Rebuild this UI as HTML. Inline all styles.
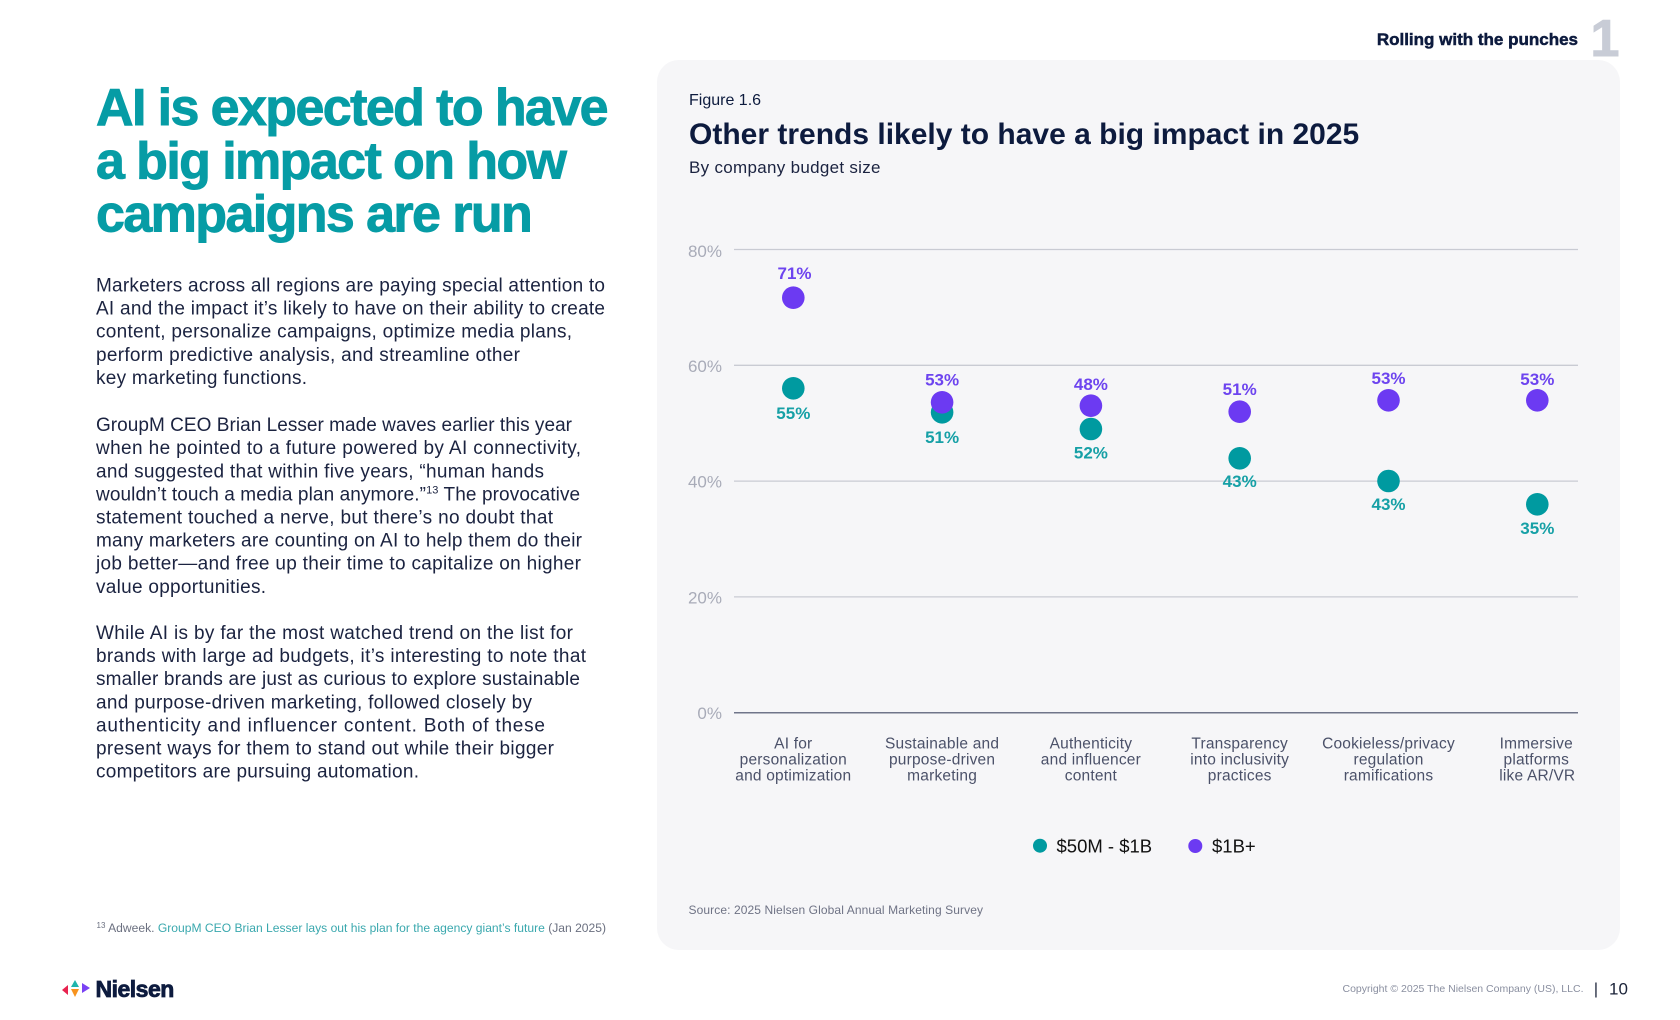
<!DOCTYPE html>
<html>
<head>
<meta charset="utf-8">
<style>
  html, body { margin: 0; padding: 0; background: #ffffff; }
  body { width: 1680px; height: 1020px; overflow: hidden; }
  svg { display: block; }
  text { font-family: "Liberation Sans", Arial, sans-serif; }
</style>
</head>
<body>
<svg width="1680" height="1020" viewBox="0 0 1680 1020" xmlns="http://www.w3.org/2000/svg">
  <!-- page background -->
  <rect x="0" y="0" width="1680" height="1020" fill="#ffffff"/>

  <!-- header -->
  <text x="1578" y="45" text-anchor="end" font-size="17" font-weight="bold" fill="#0d1b3e" stroke="#0d1b3e" stroke-width="0.5">Rolling with the punches</text>
  <text x="1605" y="56" text-anchor="middle" font-size="52" font-weight="bold" fill="#c8ccd6" stroke="#c8ccd6" stroke-width="1">1</text>

  <!-- headline -->
  <g font-size="52" font-weight="bold" fill="#069ca5" stroke="#069ca5" stroke-width="0.9" letter-spacing="-1.6">
    <text x="96" y="125">AI is expected to have</text>
    <text x="96" y="178.5">a big impact on how</text>
    <text x="96" y="231.5">campaigns are run</text>
  </g>

  <!-- body text -->
  <g font-size="19" fill="#1b2340">
    <text x="96" y="291.5" textLength="509" lengthAdjust="spacing">Marketers across all regions are paying special attention to</text>
    <text x="96" y="314.6" textLength="509" lengthAdjust="spacing">AI and the impact it’s likely to have on their ability to create</text>
    <text x="96" y="337.7" textLength="476" lengthAdjust="spacing">content, personalize campaigns, optimize media plans,</text>
    <text x="96" y="360.8" textLength="424" lengthAdjust="spacing">perform predictive analysis, and streamline other</text>
    <text x="96" y="383.9" textLength="211" lengthAdjust="spacing">key marketing functions.</text>

    <text x="96" y="431.1" textLength="476" lengthAdjust="spacing">GroupM CEO Brian Lesser made waves earlier this year</text>
    <text x="96" y="454.2" textLength="485" lengthAdjust="spacing">when he pointed to a future powered by AI connectivity,</text>
    <text x="96" y="477.3" textLength="448" lengthAdjust="spacing">and suggested that within five years, “human hands</text>
    <text x="96" y="500.4" letter-spacing="0.1">wouldn’t touch a media plan anymore.”<tspan font-size="11" dy="-7">13</tspan><tspan dy="7"> The provocative</tspan></text>
    <text x="96" y="523.5" textLength="457" lengthAdjust="spacing">statement touched a nerve, but there’s no doubt that</text>
    <text x="96" y="546.6" textLength="486" lengthAdjust="spacing">many marketers are counting on AI to help them do their</text>
    <text x="96" y="569.7" textLength="485" lengthAdjust="spacing">job better—and free up their time to capitalize on higher</text>
    <text x="96" y="592.8" textLength="170" lengthAdjust="spacing">value opportunities.</text>

    <text x="96" y="639.0" textLength="477" lengthAdjust="spacing">While AI is by far the most watched trend on the list for</text>
    <text x="96" y="662.1" textLength="490" lengthAdjust="spacing">brands with large ad budgets, it’s interesting to note that</text>
    <text x="96" y="685.2" textLength="484" lengthAdjust="spacing">smaller brands are just as curious to explore sustainable</text>
    <text x="96" y="708.3" textLength="436" lengthAdjust="spacing">and purpose-driven marketing, followed closely by</text>
    <text x="96" y="731.4" textLength="449" lengthAdjust="spacing">authenticity and influencer content. Both of these</text>
    <text x="96" y="754.5" textLength="458" lengthAdjust="spacing">present ways for them to stand out while their bigger</text>
    <text x="96" y="777.6" textLength="323" lengthAdjust="spacing">competitors are pursuing automation.</text>
  </g>

  <!-- footnote -->
  <text x="96.5" y="932" font-size="12.1" fill="#6b7080"><tspan font-size="8" dy="-4">13</tspan><tspan dy="4"> Adweek. </tspan><tspan fill="#3aa8ae">GroupM CEO Brian Lesser lays out his plan for the agency giant’s future</tspan><tspan> (Jan 2025)</tspan></text>

  <!-- Nielsen logo -->
  <polygon points="62,990 68,985 68,995" fill="#e8234f"/>
  <polygon points="71,987 79,987 75,980" fill="#1fb5ad"/>
  <polygon points="82,983 82,993 90,988" fill="#7a42f4"/>
  <polygon points="71,989 79,989 75,997" fill="#f7931e"/>
  <text x="95.5" y="997" font-size="23" font-weight="bold" fill="#0d1b3e" stroke="#0d1b3e" stroke-width="0.8" letter-spacing="-0.5">Nielsen</text>

  <!-- copyright -->
  <text x="1342.5" y="992" font-size="10.5" fill="#8a8fa0">Copyright © 2025 The Nielsen Company (US), LLC.</text>
  <text x="1596" y="994" font-size="16" fill="#1a2238" text-anchor="middle">|</text>
  <text x="1609" y="994.5" font-size="17" fill="#1a2238">10</text>

  <!-- chart card -->
  <rect x="657" y="60" width="963" height="890" rx="22" ry="22" fill="#f6f6f8"/>

  <text x="689" y="105" font-size="16" fill="#0d1b3e">Figure 1.6</text>
  <text x="689" y="144" font-size="30" font-weight="bold" fill="#0d1b3e">Other trends likely to have a big impact in 2025</text>
  <text x="689" y="173" font-size="17" fill="#1b2340" letter-spacing="0.3">By company budget size</text>

  <!-- gridlines -->
  <g stroke="#c9cbd3" stroke-width="1.3">
    <line x1="734" y1="249.5" x2="1578" y2="249.5"/>
    <line x1="734" y1="365.3" x2="1578" y2="365.3"/>
    <line x1="734" y1="481.1" x2="1578" y2="481.1"/>
    <line x1="734" y1="596.9" x2="1578" y2="596.9"/>
  </g>
  <line x1="734" y1="712.7" x2="1578" y2="712.7" stroke="#70758a" stroke-width="1.5"/>

  <!-- y-axis labels -->
  <g font-size="17" fill="#a8abb8" text-anchor="end">
    <text x="722" y="257">80%</text>
    <text x="722" y="371.8">60%</text>
    <text x="722" y="487.6">40%</text>
    <text x="722" y="603.4">20%</text>
    <text x="722" y="719.2">0%</text>
  </g>

  <!-- dots: teal first, purple on top -->
  <g fill="#009aa0">
    <circle cx="793.3" cy="388.3" r="11.3"/>
    <circle cx="942.1" cy="412.3" r="11.3"/>
    <circle cx="1090.9" cy="429" r="11.3"/>
    <circle cx="1239.7" cy="458.3" r="11.3"/>
    <circle cx="1388.5" cy="481" r="11.3"/>
    <circle cx="1537.3" cy="504.3" r="11.3"/>
  </g>
  <g fill="#6c3af2">
    <circle cx="793.3" cy="297.7" r="11.3"/>
    <circle cx="942.1" cy="402.3" r="11.3"/>
    <circle cx="1090.9" cy="405.7" r="11.3"/>
    <circle cx="1239.7" cy="411.7" r="11.3"/>
    <circle cx="1388.5" cy="400.3" r="11.3"/>
    <circle cx="1537.3" cy="400.3" r="11.3"/>
  </g>

  <!-- data labels -->
  <g font-size="17" font-weight="bold" fill="#6d44ef" text-anchor="middle">
    <text x="794.5" y="279.1">71%</text>
    <text x="942.1" y="385.4">53%</text>
    <text x="1090.9" y="390.1">48%</text>
    <text x="1239.7" y="395.1">51%</text>
    <text x="1388.5" y="383.8">53%</text>
    <text x="1537.3" y="384.8">53%</text>
  </g>
  <g font-size="17" font-weight="bold" fill="#16a0a6" text-anchor="middle">
    <text x="793.3" y="419.1">55%</text>
    <text x="942.1" y="442.8">51%</text>
    <text x="1090.9" y="458.4">52%</text>
    <text x="1239.7" y="486.8">43%</text>
    <text x="1388.5" y="510.1">43%</text>
    <text x="1537.3" y="533.8">35%</text>
  </g>

  <!-- category labels -->
  <g font-size="15.5" fill="#4b5169" text-anchor="middle" letter-spacing="0.2">
    <text x="793.3" y="748.3">AI for</text>
    <text x="793.3" y="764.3">personalization</text>
    <text x="793.3" y="780.3">and optimization</text>

    <text x="942.1" y="748.3">Sustainable and</text>
    <text x="942.1" y="764.3">purpose-driven</text>
    <text x="942.1" y="780.3">marketing</text>

    <text x="1090.9" y="748.3">Authenticity</text>
    <text x="1090.9" y="764.3">and influencer</text>
    <text x="1090.9" y="780.3">content</text>

    <text x="1239.7" y="748.3">Transparency</text>
    <text x="1239.7" y="764.3">into inclusivity</text>
    <text x="1239.7" y="780.3">practices</text>

    <text x="1388.5" y="748.3">Cookieless/privacy</text>
    <text x="1388.5" y="764.3">regulation</text>
    <text x="1388.5" y="780.3">ramifications</text>

    <text x="1536.3" y="748.3">Immersive</text>
    <text x="1536.3" y="764.3">platforms</text>
    <text x="1537.3" y="780.3">like AR/VR</text>
  </g>

  <!-- legend -->
  <circle cx="1040" cy="845.7" r="7" fill="#009aa0"/>
  <text x="1056.5" y="852.3" font-size="18.5" fill="#111111">$50M - $1B</text>
  <circle cx="1195.3" cy="846" r="7" fill="#6c3af2"/>
  <text x="1212" y="852.3" font-size="18.5" fill="#111111">$1B+</text>

  <!-- source -->
  <text x="688.5" y="914" font-size="12" fill="#6f7385" letter-spacing="0.1">Source: 2025 Nielsen Global Annual Marketing Survey</text>
</svg>
</body>
</html>
